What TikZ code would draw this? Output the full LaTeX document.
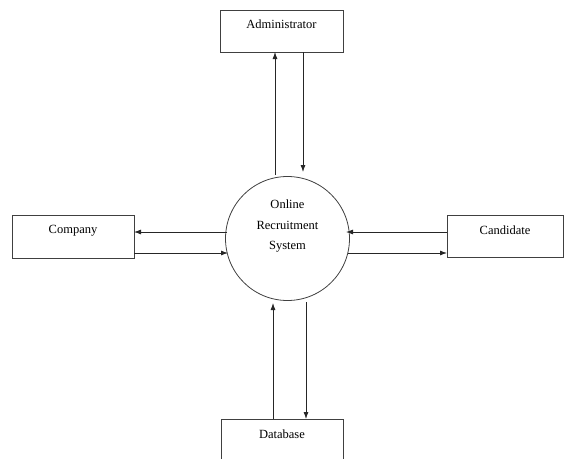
\documentclass[tikz,border=0pt]{standalone}
\usepackage{fontspec}
\setmainfont{Liberation Serif}
\usetikzlibrary{arrows.meta}
\begin{document}
\begin{tikzpicture}[x=1pt,y=-1pt,
  box/.style={draw=black!75,line width=0.8pt},
  lbl/.style={font=\fontsize{12.5}{14}\selectfont,inner sep=0pt},
  flow/.style={draw=black!85,line width=0.8pt,-{Latex[length=7pt,width=5pt]}}]
\useasboundingbox (0,0) rectangle (565,458);
\begin{scope}
\clip (0,0) rectangle (565,458);
% boxes
\draw[box] (220,10) rectangle (343,52);
\node[lbl] (admin) at (281.5,24) {Administrator};
\coordinate (adminb) at (281.5,52);
\draw[box] (12,215) rectangle (134,258);
\node[lbl] (company) at (73,231) {Company};
\draw[box] (447,215) rectangle (563,257);
\node[lbl] (cand) at (505,230) {Candidate};
\draw[box] (221,419) rectangle (343,470);
\node[lbl] (db) at (282,434) {Database};
% circle
\node[draw=black!75,line width=0.8pt,circle,minimum size=124pt,inner sep=0pt] (sys) at (287.5,238.5) {};
\node[lbl] (t1) at (287.5,204) {Online};
\node[lbl] (t2) at (287.5,225) {Recruitment};
\node[lbl] (t3) at (287.5,247) {System};
% connector end points
\coordinate (a1s) at (275,175);
\coordinate (a1e) at (275,52);
\coordinate (a2s) at (303,52);
\coordinate (a2e) at (303,172);
\coordinate (c1s) at (227,232);
\coordinate (c1e) at (134,232);
\coordinate (c2s) at (134,253);
\coordinate (c2e) at (228,253);
\coordinate (d1s) at (347,232);
\coordinate (d1e) at (447,232);
\coordinate (k1s) at (447,232);
\coordinate (k1e) at (346,232);
\coordinate (k2s) at (348,253);
\coordinate (k2e) at (447,253);
\coordinate (b1s) at (273,419);
\coordinate (b1e) at (273,303);
\coordinate (b2s) at (306,302);
\coordinate (b2e) at (306,419);
\draw[flow] (a1s) -- (a1e);
\draw[flow] (a2s) -- (a2e);
\draw[flow] (c1s) -- (c1e);
\draw[flow] (c2s) -- (c2e);
\draw[flow] (k1s) -- (k1e);
\draw[flow] (k2s) -- (k2e);
\draw[flow] (b1s) -- (b1e);
\draw[flow] (b2s) -- (b2e);
\end{scope}
\end{tikzpicture}
\end{document}
